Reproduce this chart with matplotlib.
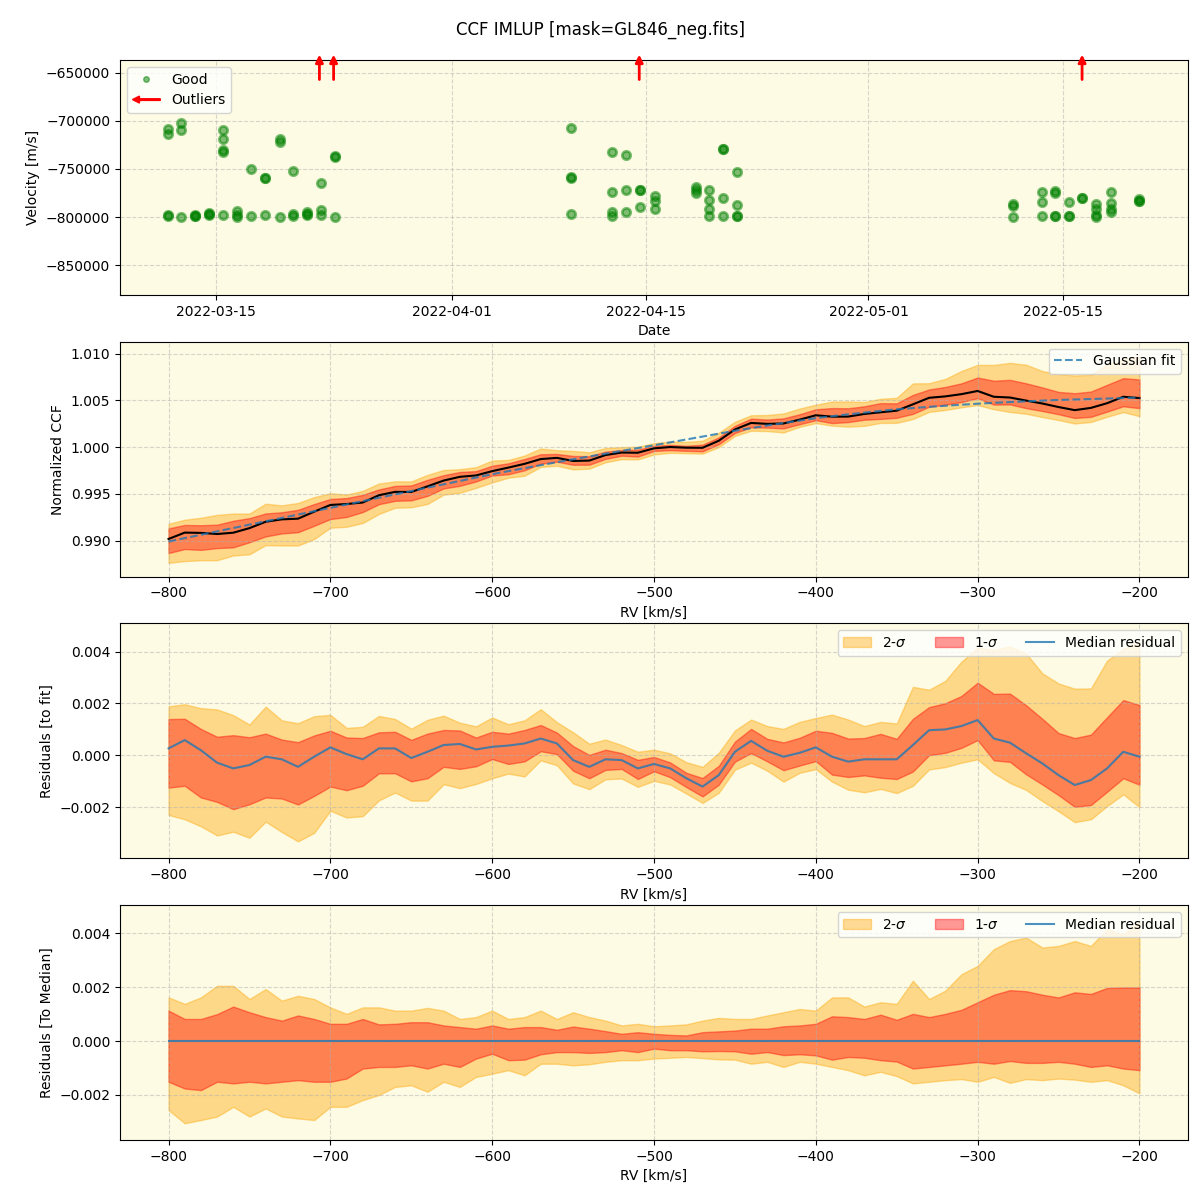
import numpy as np
import pandas as pd
import matplotlib
matplotlib.use('Agg')
import matplotlib.pyplot as plt
import matplotlib.dates as mdates
from matplotlib.patches import FancyArrow
from matplotlib.legend_handler import HandlerPatch

# ---- top panel: RV time series (good points) ----
good_dates = ['2022-03-11 14:00'] * 4 + ['2022-03-12 13:00'] * 3 + ['2022-03-13 13:00'] * 3 + \
    ['2022-03-14 13:30'] * 3 + ['2022-03-15 13:10'] * 5 + ['2022-03-16 13:40'] * 3 + \
    ['2022-03-17 14:10'] * 2 + ['2022-03-18 14:10'] * 3 + ['2022-03-19 14:40'] * 3 + \
    ['2022-03-20 13:00'] * 3 + ['2022-03-21 14:10'] * 3 + ['2022-03-22 13:30'] * 3 + \
    ['2022-03-23 14:00'] * 3 + \
    ['2022-04-09 14:25'] * 4 + ['2022-04-12 13:10'] * 4 + ['2022-04-13 13:10'] * 3 + \
    ['2022-04-14 13:10'] * 3 + ['2022-04-15 14:25'] * 3 + ['2022-04-18 14:25'] * 3 + \
    ['2022-04-19 12:45'] * 4 + ['2022-04-20 12:45'] * 4 + ['2022-04-21 13:30'] * 4 + \
    ['2022-05-11 10:20'] * 3 + ['2022-05-13 11:15'] * 3 + ['2022-05-14 10:50'] * 4 + \
    ['2022-05-15 10:50'] * 3 + ['2022-05-16 09:40'] * 2 + ['2022-05-17 09:40'] * 4 + \
    ['2022-05-18 10:20'] * 4 + ['2022-05-20 10:30'] * 3
good_vel = [-708600, -713100, -797600, -799300,
            -702000, -709000, -800000,
            -798300, -799000, -799000,
            -796000, -797600, -796500,
            -709700, -718300, -730300, -732800, -798300,
            -793400, -797600, -800300,
            -750000, -799300,
            -759000, -759000, -797600,
            -718300, -721700, -800000,
            -752400, -797000, -799300,
            -795200, -798300, -797000,
            -764800, -792400, -797600,
            -736000, -737500, -800000,
            -706900, -758000, -759700, -796900,
            -732800, -774100, -795200, -799300,
            -735900, -771700, -794800,
            -771700, -771700, -789700,
            -778600, -783800, -791700,
            -768300, -771700, -774500,
            -771700, -782100, -791700, -799300,
            -729300, -729300, -780300, -799300,
            -753400, -787600, -799300, -799300,
            -786200, -789000, -800000,
            -774100, -784500, -798600,
            -773400, -775200, -798600, -798600,
            -784500, -799300, -799300,
            -780300, -780300,
            -786200, -791400, -797600, -800000,
            -774100, -785500, -791700, -795200,
            -781000, -783800, -783800]
outlier_dates = ['2022-03-22 11:30', '2022-03-23 12:00', '2022-04-14 12:00', '2022-05-16 09:00']

# ---- CCF panels ----
rv = list(range(-800, -190, 10))
gauss_fit = [0.98990, 0.99026, 0.99062, 0.99098, 0.99134, 0.99170, 0.99206, 0.99242, 0.99278, 0.99314,
             0.99350, 0.99386, 0.99422, 0.99458, 0.99494, 0.99530, 0.99566, 0.99602, 0.99638, 0.99674,
             0.99710, 0.99743, 0.99775, 0.99807, 0.99839, 0.99870, 0.99900, 0.99930, 0.99960, 0.99990,
             1.00020, 1.00051, 1.00082, 1.00113, 1.00144, 1.00175, 1.00203, 1.00231, 1.00258, 1.00284,
             1.00310, 1.00331, 1.00351, 1.00370, 1.00388, 1.00405, 1.00418, 1.00431, 1.00443, 1.00454,
             1.00465, 1.00474, 1.00482, 1.00490, 1.00498, 1.00505, 1.00510, 1.00515, 1.00520, 1.00525,
             1.00530]
resid_med = [0.00027, 0.00059, 0.00020, -0.00028, -0.00050, -0.00037, -0.00005, -0.00015, -0.00044, -0.00005,
             0.00031, 0.00005, -0.00015, 0.00027, 0.00027, -0.00010, 0.00014, 0.00040, 0.00044, 0.00023,
             0.00033, 0.00038, 0.00046, 0.00065, 0.00046, -0.00018, -0.00044, -0.00015, -0.00018, -0.00050,
             -0.00033, -0.00050, -0.00088, -0.00120, -0.00076, 0.00014, 0.00056, 0.00018, -0.00005, 0.00010,
             0.00031, -0.00005, -0.00024, -0.00015, -0.00015, -0.00015, 0.00040, 0.00097, 0.00100, 0.00113,
             0.00136, 0.00065, 0.00049, 0.00008, -0.00031, -0.00076, -0.00114, -0.00095, -0.00050, 0.00014,
             -0.00005]
up2 = [0.00162, 0.00138, 0.00162, 0.00205, 0.00205, 0.00156, 0.00193, 0.00150, 0.00168, 0.00156,
       0.00125, 0.00101, 0.00125, 0.00125, 0.00113, 0.00113, 0.00123, 0.00113, 0.00082, 0.00089,
       0.00113, 0.00082, 0.00089, 0.00113, 0.00082, 0.00107, 0.00089, 0.00076, 0.00058, 0.00064,
       0.00055, 0.00058, 0.00062, 0.00076, 0.00086, 0.00082, 0.00082, 0.00095, 0.00107, 0.00119,
       0.00113, 0.00162, 0.00162, 0.00128, 0.00144, 0.00138, 0.00224, 0.00156, 0.00187, 0.00248,
       0.00279, 0.00341, 0.00371, 0.00384, 0.00347, 0.00353, 0.00371, 0.00353, 0.00415, 0.00396,
       0.00445]
up1 = [0.00113, 0.00082, 0.00082, 0.00100, 0.00128, 0.00107, 0.00089, 0.00076, 0.00095, 0.00082,
       0.00064, 0.00064, 0.00082, 0.00062, 0.00064, 0.00070, 0.00070, 0.00058, 0.00052, 0.00046,
       0.00058, 0.00046, 0.00052, 0.00052, 0.00042, 0.00054, 0.00046, 0.00037, 0.00027, 0.00033,
       0.00027, 0.00023, 0.00021, 0.00033, 0.00036, 0.00039, 0.00046, 0.00046, 0.00055, 0.00058,
       0.00064, 0.00092, 0.00089, 0.00082, 0.00098, 0.00079, 0.00101, 0.00089, 0.00101, 0.00116,
       0.00144, 0.00172, 0.00189, 0.00185, 0.00172, 0.00162, 0.00181, 0.00175, 0.00197, 0.00199,
       0.00199]
lo1 = [-0.00151, -0.00176, -0.00182, -0.00151, -0.00157, -0.00151, -0.00157, -0.00151, -0.00145, -0.00151,
       -0.00151, -0.00139, -0.00102, -0.00096, -0.00096, -0.00090, -0.00102, -0.00084, -0.00096, -0.00065,
       -0.00047, -0.00071, -0.00069, -0.00049, -0.00041, -0.00041, -0.00044, -0.00041, -0.00034, -0.00041,
       -0.00028, -0.00034, -0.00034, -0.00038, -0.00037, -0.00038, -0.00047, -0.00041, -0.00052, -0.00049,
       -0.00053, -0.00069, -0.00059, -0.00062, -0.00071, -0.00076, -0.00102, -0.00096, -0.00090, -0.00084,
       -0.00077, -0.00084, -0.00074, -0.00081, -0.00081, -0.00077, -0.00084, -0.00096, -0.00090, -0.00102,
       -0.00108]
lo2 = [-0.00256, -0.00305, -0.00293, -0.00280, -0.00244, -0.00280, -0.00250, -0.00280, -0.00287, -0.00293,
       -0.00244, -0.00244, -0.00219, -0.00200, -0.00170, -0.00164, -0.00188, -0.00151, -0.00170, -0.00133,
       -0.00121, -0.00108, -0.00127, -0.00084, -0.00084, -0.00090, -0.00086, -0.00077, -0.00071, -0.00071,
       -0.00065, -0.00062, -0.00059, -0.00063, -0.00068, -0.00069, -0.00084, -0.00077, -0.00096, -0.00077,
       -0.00084, -0.00096, -0.00108, -0.00127, -0.00114, -0.00130, -0.00157, -0.00151, -0.00145, -0.00141,
       -0.00151, -0.00133, -0.00155, -0.00141, -0.00145, -0.00139, -0.00143, -0.00151, -0.00145, -0.00164,
       -0.00194]

rv = np.array(rv)
fit = np.array(gauss_fit)
res = np.array(resid_med)
ccf = fit + res
bands = [np.array(b) for b in (up2, up1, lo1, lo2)]

bg = '#fdfbe3'


def arrow_handle(legend, orig_handle, xdescent, ydescent, width, height, fontsize):
    return FancyArrow(width, 0.5 * height, -width, 0, width=1.2, head_width=5, head_length=5,
                      length_includes_head=True, color='red')


fig, axes = plt.subplots(4, 1, figsize=(12, 12), dpi=100)
fig.subplots_adjust(left=0.10, right=0.99, top=0.95, bottom=0.05, hspace=0.2)
fig.suptitle('CCF IMLUP [mask=GL846_neg.fits]', fontsize=12, y=0.983)

# panel 1
ax = axes[0]
ax.set_facecolor(bg)
gd = pd.to_datetime(good_dates)
ax.plot(gd, good_vel, 'o', color='green', alpha=0.5, ms=6, mew=2, label='Good')
for d in pd.to_datetime(outlier_dates):
    ax.annotate('', xy=(d, 1.035), xytext=(d, 0.905), xycoords=('data', 'axes fraction'),
                arrowprops=dict(arrowstyle='-|>', color='red', lw=2, mutation_scale=11),
                annotation_clip=False)
ax.set_ylim(-881000, -636500)
ax.set_xlim(pd.Timestamp('2022-03-08 03:00'), pd.Timestamp('2022-05-24 00:00'))
ax.ticklabel_format(axis='y', style='plain', useOffset=False)
ax.xaxis.set_major_locator(mdates.DayLocator(bymonthday=[1, 15]))
ax.xaxis.set_major_formatter(mdates.DateFormatter('%Y-%m-%d'))
ax.set_xlabel('Date')
ax.set_ylabel('Velocity [m/s]')
ax.grid(True, linestyle='--', alpha=0.5)
arr = FancyArrow(0, 0, 1, 0, color='red')
hl, = ax.plot([], [], 'o', color='green', alpha=0.5, ms=4)
ax.legend([hl, arr], ['Good', 'Outliers'], loc='upper left',
          handler_map={FancyArrow: HandlerPatch(patch_func=arrow_handle)})

# panel 2
ax = axes[1]
ax.set_facecolor(bg)
ax.fill_between(rv, ccf + bands[3], ccf + bands[0], color='orange', alpha=0.4)
ax.fill_between(rv, ccf + bands[2], ccf + bands[1], color='red', alpha=0.4)
ax.plot(rv, ccf, color='black', lw=1.5)
ax.plot(rv, fit, '--', color='C0', alpha=0.8, lw=1.5, label='Gaussian fit')
ax.set_xlim(-830, -170)
ax.set_ylim(0.98615, 1.01128)
ax.set_xlabel('RV [km/s]')
ax.set_ylabel('Normalized CCF')
ax.grid(True, linestyle='--', alpha=0.5)
ax.legend(loc='upper right')

# panels 3 and 4
for ax, mid, ylab, ylim in [(axes[2], res, 'Residuals [to fit]', (-0.00396, 0.00508)),
                            (axes[3], np.zeros_like(res), 'Residuals [To Median]', (-0.00367, 0.00504))]:
    ax.set_facecolor(bg)
    ax.fill_between(rv, mid + bands[3], mid + bands[0], color='orange', alpha=0.4, label='2-$\\sigma$')
    ax.fill_between(rv, mid + bands[2], mid + bands[1], color='red', alpha=0.4, label='1-$\\sigma$')
    ax.plot(rv, mid, color='C0', alpha=0.8, lw=1.5, label='Median residual')
    ax.set_xlim(-830, -170)
    ax.set_ylim(*ylim)
    ax.set_xlabel('RV [km/s]')
    ax.set_ylabel(ylab)
    ax.grid(True, linestyle='--', alpha=0.5)
    ax.legend(loc='upper right', ncol=3)

fig.savefig('out.png', dpi=100)
